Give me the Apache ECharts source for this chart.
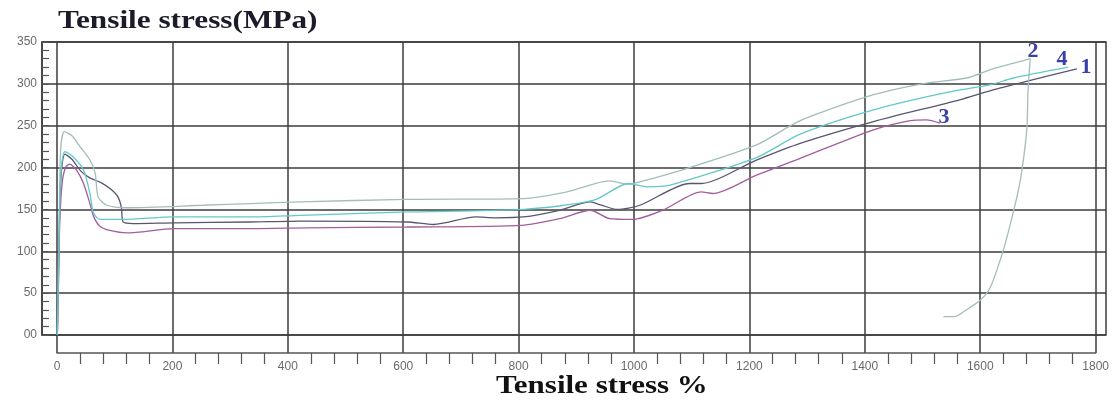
<!DOCTYPE html>
<html><head><meta charset="utf-8">
<script src="https://cdn.jsdelivr.net/npm/echarts@6/dist/echarts.min.js"></script>
<style>html,body{margin:0;padding:0;background:#fff}#c{width:1112px;height:402px}</style>
</head><body><div id="c"></div>
<script>
// Data: [strain %, stress MPa]
const curve1 = [[0,0],[2,80],[4,150],[7,195],[13,216],[25,210],[40,196],[55,188],[75,182],[92,174],[104,165],[110,152],[113,135],[130,133],[200,134],[331,135],[417,136],[600,135],[646,132],[718,141],[751,140],[800,141],[862,149],[915,159],[934,155],[961,150],[1000,155],[1085,181],[1105,181],[1200,209],[1275,229],[1401,255],[1549,281],[1602,292],[1675,305],[1750,318]];
const curve2 = [[0,0],[2,80],[4,170],[6,225],[12,243],[25,238],[39,225],[56,209],[65,193],[70,165],[85,155],[119,152],[250,155],[331,157],[417,159],[600,162],[800,163],[875,171],[948,184],[980,180],[1000,183],[1072,197],[1200,227],[1275,256],[1401,287],[1492,301],[1561,307],[1602,317],[1670,330],[1666,290],[1664,245],[1653,185],[1641,147],[1624,102],[1602,58],[1585,42],[1556,28],[1541,22],[1521,22]];
const curve3 = [[0,0],[2,60],[4,130],[8,180],[14,200],[21,204],[33,197],[45,181],[56,157],[62,142],[73,130],[90,125],[120,122],[200,127],[331,127],[430,128],[600,129],[797,131],[862,139],[915,149],[948,139],[987,138],[1039,149],[1105,171],[1125,169],[1200,191],[1275,211],[1401,245],[1464,256],[1492,257],[1515,253]];
const curve4 = [[0,0],[2,70],[4,150],[7,200],[13,219],[27,213],[45,197],[56,169],[62,146],[73,138],[113,138],[200,141],[331,141],[417,143],[600,147],[800,150],[921,161],[980,181],[1013,177],[1052,179],[1200,212],[1275,240],[1401,269],[1521,289],[1602,299],[1641,307],[1735,320]];
const curveNames = ['1','2','3','4'];
const curveColors = ['#5a5472','#a3beba','#a35c9e','#62c9c9'];
const yTickLabels = {0:'00'};

const chart = echarts.init(document.getElementById('c'), null, {renderer:'canvas'});
const gridColor = '#3d3d3d';
const labelFont = {color:'#6a6a6a', fontSize:12, fontFamily:'Liberation Sans, Arial, sans-serif'};
const curves = [curve1, curve2, curve3, curve4];

chart.setOption({
  animation:false,
  backgroundColor:'#fff',
  grid:[
    {left:42, right:6, top:42, bottom:67, show:true, borderColor:gridColor, borderWidth:1.5, backgroundColor:'transparent'},
    {left:57, right:6, top:42, bottom:49}
  ],
  xAxis:[
    {type:'value', gridIndex:0, min:-26.3, max:1800, show:false},
    {type:'value', gridIndex:1, min:0, max:1800, interval:200, position:'bottom',
     axisLine:{show:true, onZero:false, lineStyle:{color:'#555', width:1.5}},
     axisTick:{show:false},
     minorTick:{show:true, splitNumber:5, length:11, lineStyle:{color:'#555', width:1.2}},
     splitLine:{show:true, lineStyle:{color:gridColor, width:1.5}},
     axisLabel:Object.assign({margin:8, formatter:v=>String(v)}, labelFont)}
  ],
  yAxis:[
    {type:'value', gridIndex:0, min:0, max:350, interval:50,
     axisLine:{show:true, onZero:false, lineStyle:{color:gridColor, width:1.5}},
     axisTick:{show:true, inside:true, length:7, lineStyle:{color:'#555'}},
     minorTick:{show:true, splitNumber:5, length:7, lineStyle:{color:'#555', width:1.2}},
     splitLine:{show:true, lineStyle:{color:gridColor, width:1.5}},
     axisLabel:Object.assign({margin:5, formatter:v=> (yTickLabels[v]!==undefined? yTickLabels[v] : String(v))}, labelFont)},
    {type:'value', gridIndex:1, min:0, max:350, show:false}
  ],
  series: curves.map((d,i)=>({
    type:'line', name:curveNames[i], xAxisIndex:0, yAxisIndex:0, data:d,
    showSymbol:false, smooth:0.25, clip:false,
    lineStyle:{color:curveColors[i], width:1.3}, z:5
  })),
  graphic:[
    {type:'text', left:58, top:9, scaleX:1.25, style:{text:'Tensile stress(MPa)', font:'bold 25px "Liberation Serif", "Times New Roman", serif', fill:'#1b1b2a'}},
    {type:'text', left:496, top:374, scaleX:1.24, style:{text:'Tensile stress %', font:'bold 25px "Liberation Serif", "Times New Roman", serif', fill:'#111'}},
    {type:'text', x:1033, y:51, style:{text:'2', font:'bold 22px "Liberation Serif", serif', fill:'#3b3fa8', align:'center', verticalAlign:'middle'}},
    {type:'text', x:1062, y:59, style:{text:'4', font:'bold 22px "Liberation Serif", serif', fill:'#3b3fa8', align:'center', verticalAlign:'middle'}},
    {type:'text', x:1086, y:67, style:{text:'1', font:'bold 22px "Liberation Serif", serif', fill:'#3b3fa8', align:'center', verticalAlign:'middle'}},
    {type:'text', x:944, y:117, style:{text:'3', font:'bold 22px "Liberation Serif", serif', fill:'#3b3fa8', align:'center', verticalAlign:'middle'}}
  ]
});
</script></body></html>
